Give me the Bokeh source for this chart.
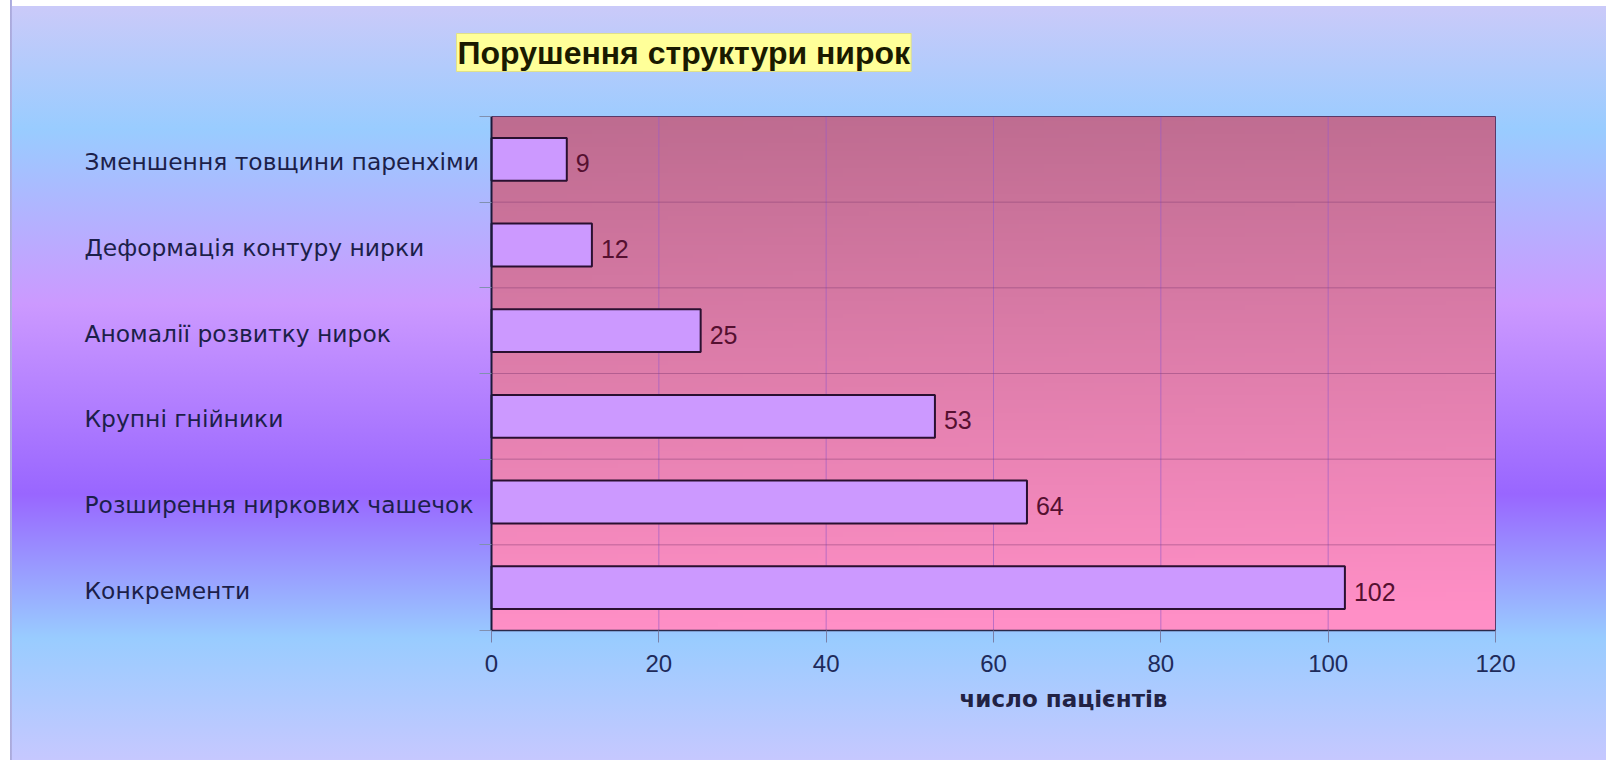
import numpy as np
from bokeh.plotting import figure
from bokeh.models import ColumnDataSource, LabelSet, Label, FixedTicker, Range1d
from bokeh.core.properties import value
from bokeh.embed import file_html
from bokeh.resources import INLINE

# ---- data ----
categories = ["Зменшення товщини паренхіми", "Деформація контуру нирки",
              "Аномалії розвитку нирок", "Крупні гнійники",
              "Розширення ниркових чашечок", "Конкременти"]
counts = [9, 12, 25, 53, 64, 102]
x_ticks = [0, 20, 40, 60, 80, 100, 120]
title_text = "Порушення структури нирок"
x_title = "число пацієнтів"

FONT = "Liberation Sans"
WIDE = "DejaVu Sans"
W, H = 1606, 760
FL, FR, FT, FB = 491, 1495, 116, 630   # plot-area edges in canvas px

n = len(categories)
XMAX = 120

def X(px):
    return (px - FL) * XMAX / (FR - FL)

def Y(py):
    return (FB - py) / (FB - FT) * n

# bottom-to-top positions: first category on top
ypos = [n - 1 - i + 0.5 for i in range(n)]

src = ColumnDataSource(dict(cat=categories, cnt=counts, y=ypos,
                            lab=[str(c) for c in counts],
                            lx=[X(84)] * n))

p = figure(width=W, height=H, output_backend="svg", toolbar_location=None,
           title=None,
           x_range=Range1d(X(0), X(W)), y_range=Range1d(Y(H), Y(0)),
           min_border=0)
p.border_fill_color = None
p.background_fill_color = None
p.outline_line_color = None
p.styles = {"background-image":
            "linear-gradient(to right, #ffffff 0px, #ffffff 10px, #a9a9d9 10px, #b0b0e4 12px, rgba(0,0,0,0) 12px), "
            "linear-gradient(to bottom, #ffffff 0px, #ffffff 6px, rgba(0,0,0,0) 6px), "
            "linear-gradient(to bottom, #cacaf9 1%, #99ccff 17%, #cc99ff 40%, "
            "#9966ff 65%, #99ccff 84%, #c6c8ff 100%)"}

# plot-area gradient
rows, cols = 120, 40
t = np.linspace(0, 1, rows)[:, None]  # 0 bottom -> 1 top
s = np.linspace(0, 1, cols)[None, :]
top = np.array([190, 108, 144]); bot = np.array([255, 143, 198])
img = np.empty((rows, cols), dtype=np.uint32)
view = img.view(dtype=np.uint8).reshape((rows, cols, 4))
f = np.clip(t - 0.04 * s, 0, 1)
for k in range(3):
    view[:, :, k] = (bot[k] + (top[k] - bot[k]) * f).astype(np.uint8)
view[:, :, 3] = 255
p.image_rgba(image=[img], x=0, y=0, dw=XMAX, dh=n, level="image")

# grid lines (own, limited to plot area)
p.xgrid.visible = False
p.ygrid.visible = False
gx = x_ticks[1:-1]
p.segment(x0=gx, y0=[0] * len(gx), x1=gx, y1=[n] * len(gx),
          line_color="#9a5cc4", line_alpha=0.65, line_width=1)
gy = list(range(1, n))
p.segment(x0=[0] * len(gy), y0=gy, x1=[XMAX] * len(gy), y1=gy,
          line_color="#8a3f78", line_alpha=0.5, line_width=1)
# plot-area border
p.quad(left=[0], right=[XMAX], bottom=[0], top=[n], fill_color=None,
       line_color="#5a3a6a", line_width=1)

# x axis
p.xaxis.fixed_location = 0
p.xaxis.bounds = (0, XMAX)
p.xaxis.ticker = FixedTicker(ticks=x_ticks)
p.xaxis.axis_line_color = "#2a2a4a"
p.xaxis.axis_line_width = 1.5
p.xaxis.major_tick_out = 12
p.xaxis.major_tick_in = 0
p.xaxis.major_tick_line_color = "#7a80a8"
p.xaxis.minor_tick_line_color = None
p.xaxis.major_label_text_font = FONT
p.xaxis.major_label_text_font_size = "24px"
p.xaxis.major_label_text_color = "#1e2a5a"
p.xaxis.major_label_standoff = 12

# y axis: ticks at band boundaries; category names drawn left-aligned below
p.yaxis.fixed_location = 0
p.yaxis.bounds = (0, n)
p.yaxis.ticker = FixedTicker(ticks=list(range(0, n + 1)))
p.yaxis.axis_line_color = "#1a1a3a"
p.yaxis.axis_line_width = 2
p.yaxis.major_tick_out = 12
p.yaxis.major_tick_in = 0
p.yaxis.major_tick_line_color = "#8090b0"
p.yaxis.minor_tick_line_color = None
p.yaxis.major_label_text_color = None

# bars
p.hbar(y="y", right="cnt", left=0, height=0.5, source=src,
       fill_color="#cc99ff", line_color="#2a1030", line_width=2)

# value labels
p.add_layout(LabelSet(x="cnt", y="y", text="lab", source=src,
                      x_offset=9, y_offset=-4,
                      text_font=value(FONT), text_font_size="25px",
                      text_color="#551030", text_baseline="middle",
                      text_align="left"))

# category labels
p.add_layout(LabelSet(x="lx", y="y", text="cat", source=src, y_offset=-3,
                      text_font=value(WIDE), text_font_size="23.4px",
                      text_color="#1c1f4a", text_baseline="middle",
                      text_align="left"))

# title
p.add_layout(Label(x=X(456), y=Y(52), text=title_text,
                   text_font=FONT, text_font_size="32px",
                   text_font_style="bold", text_color="#1a1a00",
                   text_baseline="middle", text_align="left",
                   background_fill_color="#ffff99",
                   border_line_color="#e0e08a", padding=1))

# x axis title
p.add_layout(Label(x=X(1063), y=Y(698), text=x_title,
                   text_font=WIDE, text_font_size="23px",
                   text_font_style="bold", text_color="#222244",
                   text_baseline="middle", text_align="center"))

open("out.html", "w").write(file_html(p, INLINE))
